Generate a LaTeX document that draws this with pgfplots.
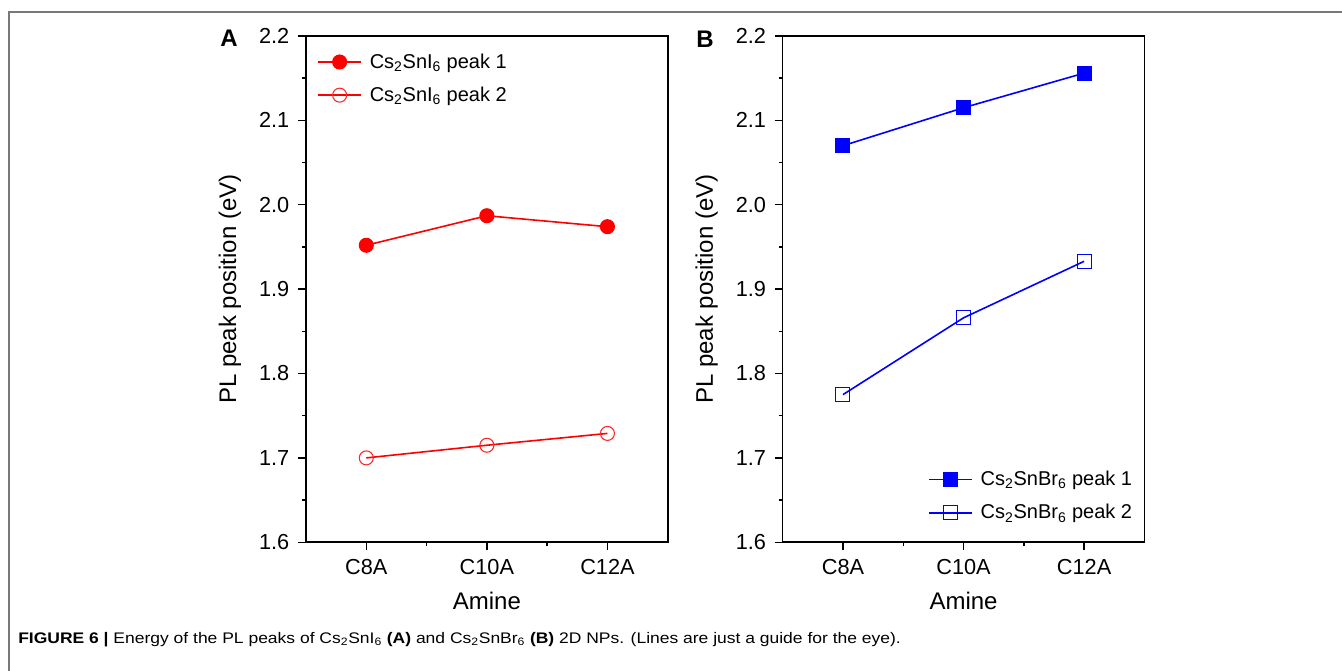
\documentclass[border=0pt]{standalone}
\usepackage{fontspec}
\setmainfont{Liberation Sans}
\newfontfamily\capfont[FakeStretch=1.14]{Liberation Sans}
\usepackage{pgfplots}
\pgfplotsset{compat=1.18}
\definecolor{framegray}{RGB}{120,120,120}
\pgfplotsset{
  panel/.style={
    scale only axis,
    width=271.3pt, height=379.7pt,
    xmin=-0.5, xmax=2.5,
    ymin=1.6, ymax=2.2,
    xtick={0,1,2},
    xticklabels={C8A,C10A,C12A},
    minor xtick={0.5,1.5},
    ytick={1.6,1.7,1.8,1.9,2.0,2.1,2.2},
    minor ytick={1.65,1.75,1.85,1.95,2.05,2.15},
    yticklabel style={xshift=-3pt, /pgf/number format/fixed, /pgf/number format/fixed zerofill, /pgf/number format/precision=1, /pgf/number format/assume math mode=true},
    xticklabel style={yshift=-3pt},
    tick pos=left,
    tick align=outside,
    major tick length=6pt,
    minor tick length=3pt,
    axis line style={line width=1.2pt},
    every tick/.style={line width=1.1pt, black},
    ticklabel style={font=\fontsize{16.3}{19}\selectfont},
    xlabel={Amine},
    ylabel={PL peak position (eV)},
    label style={font=\fontsize{18}{21}\selectfont},
    xlabel style={at={(axis description cs:0.5,0)}, anchor=center, yshift=-44pt},
    ylabel style={at={(axis description cs:-0.21,0.5)}, anchor=center},
    legend cell align=left,
    legend style={draw=none, fill=none, font=\fontsize{15}{18}\selectfont, row sep=8.5pt},
    legend image code/.code={\draw[mark repeat=2,mark phase=2] plot coordinates {(0pt,0pt) (16pt,0pt) (32pt,0pt)};\path (36pt,0pt);},
  }
}
\begin{document}
\begin{tikzpicture}
\path[use as bounding box] (0,0) rectangle (1006.5pt,-503.25pt);
\draw[framegray, line width=0.8pt] (6.75pt,-503.25pt) -- (6.75pt,-9pt) -- (1006.5pt,-9pt);

\begin{axis}[panel, at={(229.5pt,-406.7pt)}, anchor=south west,
  legend style={at={(axis description cs:0.02,0.976)}, anchor=north west}]
\addplot[red, line width=1.2pt, mark=*, mark size=5.25pt, mark options={fill=red, line width=0.8pt}]
  coordinates {(0,1.952) (1,1.987) (2,1.974)};
\addlegendentry{Cs\textsubscript{2}SnI\textsubscript{6} peak 1}
\addplot[red, line width=1.2pt, mark=o, mark size=5.25pt, mark options={fill=white, draw=red!85, line width=0.8pt}]
  coordinates {(0,1.700) (1,1.715) (2,1.729)};
\addlegendentry{Cs\textsubscript{2}SnI\textsubscript{6} peak 2}
\end{axis}

\begin{axis}[panel, at={(587pt,-406.7pt)}, anchor=south west,
  legend style={at={(axis description cs:0.391,0.031)}, anchor=south west}]
\addplot[blue, line width=1.2pt, mark=square*, mark size=5.25pt, mark options={fill=blue, line width=0.8pt}]
  coordinates {(0,2.070) (1,2.115) (2,2.156)};
\addlegendentry{Cs\textsubscript{2}SnBr\textsubscript{6} peak 1}
\addplot[blue, line width=1.2pt, mark=square, mark size=5.25pt, mark options={fill=white, draw=blue, line width=0.8pt}]
  coordinates {(0,1.775) (1,1.866) (2,1.933)};
\addlegendentry{Cs\textsubscript{2}SnBr\textsubscript{6} peak 2}
\end{axis}

\node[font=\fontsize{18}{21}\selectfont\bfseries] at (171.75pt,-28.9pt) {A};
\node[font=\fontsize{18}{21}\selectfont\bfseries] at (528.75pt,-29.2pt) {B};

\node[anchor=base west, inner sep=0pt, font=\capfont\fontsize{11.5}{13}\selectfont] at (13.5pt,-482.25pt)
  {\textbf{FIGURE 6 |} Energy of the PL peaks of Cs\textsubscript{2}SnI\textsubscript{6} \textbf{(A)} and Cs\textsubscript{2}SnBr\textsubscript{6} \textbf{(B)} 2D NPs. (Lines are just a guide for the eye).};
\end{tikzpicture}
\end{document}
